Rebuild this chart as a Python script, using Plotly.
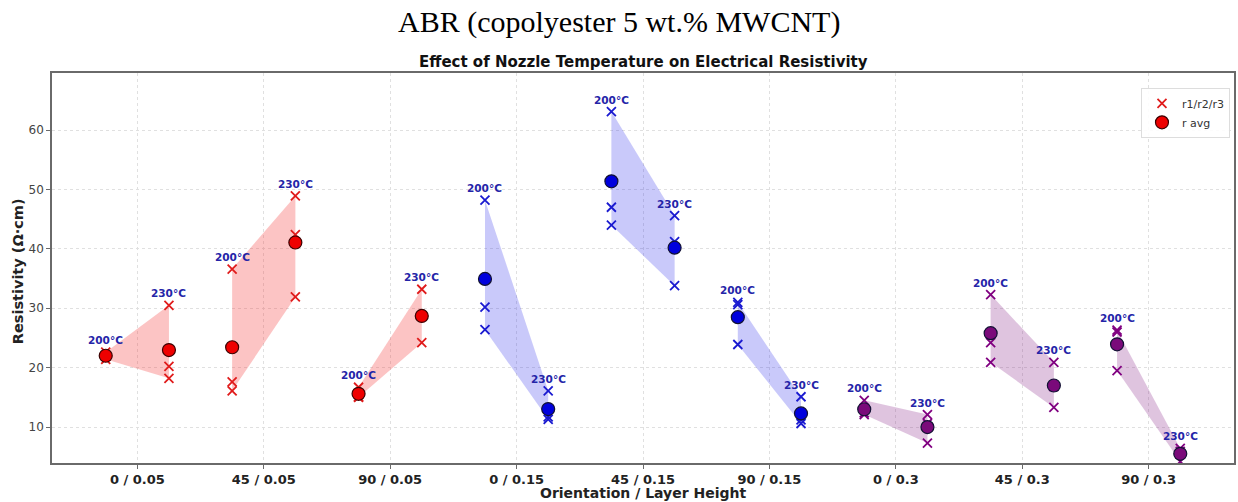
import plotly.graph_objects as go

# Orientation / layer-height combinations on the x axis
groups = ["0 / 0.05", "45 / 0.05", "90 / 0.05",
          "0 / 0.15", "45 / 0.15", "90 / 0.15",
          "0 / 0.3", "45 / 0.3", "90 / 0.3"]
layer_of_group = ["0.05", "0.05", "0.05", "0.15", "0.15", "0.15", "0.3", "0.3", "0.3"]
temps = ["200°C", "230°C"]

# Resistivity readings (Ω·cm) at 200 °C nozzle temperature
r1_200 = [22.6, 36.6, 16.7, 48.2, 63.1, 31.0, 14.5, 32.3, 26.3]
r2_200 = [21.4, 17.6, 15.0, 30.2, 47.0, 30.6, 12.1, 24.2, 26.0]
r3_200 = [22.0, 16.1, 15.1, 26.4, 44.0, 23.9, 12.4, 20.9, 19.5]

# Resistivity readings (Ω·cm) at 230 °C nozzle temperature
r1_230 = [30.5, 48.9, 33.2, 16.1, 45.6, 15.1, 12.1, 20.9, 6.4]
r2_230 = [20.2, 42.4, 24.2, 11.7, 41.2, 11.2, 10.6, 16.8, 4.2]
r3_230 = [18.2, 31.9, 28.7, 11.3, 33.8, 10.6, 7.3, 13.3, 5.9]

yticks = [10, 20, 30, 40, 50, 60]

# colour scheme per layer height
marker_color = {"0.05": "#e01b1b", "0.15": "#1a1ad0", "0.3": "#800080"}
avg_color = {"0.05": "#ee0000", "0.15": "#0000dd", "0.3": "#7a0a7a"}
fill_color = {"0.05": "rgba(245,60,60,0.30)", "0.15": "rgba(40,40,235,0.25)",
              "0.3": "rgba(128,20,128,0.25)"}
label_color = "#2424a8"
offset = 0.25

fig = go.Figure()
annotations = []

for i, g in enumerate(groups):
    lay = layer_of_group[i]
    x200, x230 = i - offset, i + offset
    v200 = [r1_200[i], r2_200[i], r3_200[i]]
    v230 = [r1_230[i], r2_230[i], r3_230[i]]
    avg200 = sum(v200) / 3
    avg230 = sum(v230) / 3

    # band between the minimum and maximum readings of the two temperatures
    fig.add_trace(go.Scatter(
        x=[x200, x230, x230, x200, x200],
        y=[max(v200), max(v230), min(v230), min(v200), max(v200)],
        mode="lines", fill="toself", fillcolor=fill_color[lay],
        line=dict(width=0), hoverinfo="skip", showlegend=False))

    first = i == 0
    fig.add_trace(go.Scatter(
        x=[x200] * 3 + [x230] * 3, y=v200 + v230, mode="markers",
        name="r1/r2/r3", showlegend=first,
        marker=dict(symbol="x-thin", size=9, color=marker_color[lay],
                    line=dict(width=1.8, color=marker_color[lay]))))
    fig.add_trace(go.Scatter(
        x=[x200, x230], y=[avg200, avg230], mode="markers",
        name="r avg", showlegend=first,
        marker=dict(symbol="circle", size=13, color=avg_color[lay],
                    line=dict(width=1.2, color="#3a0000" if lay == "0.05" else "#111133"))))

    for xt, vals, t in ((x200, v200, temps[0]), (x230, v230, temps[1])):
        annotations.append(dict(
            x=xt, y=max(vals), xref="x", yref="y", text=t, showarrow=False,
            yanchor="bottom", yshift=4,
            font=dict(family="DejaVu Sans", size=10.5, color=label_color, weight="bold")))

# titles and axis labels
annotations += [
    dict(text="ABR (copolyester 5 wt.% MWCNT)", x=0.4793, y=1.131, xref="paper", yref="paper",
         showarrow=False, xanchor="center", yanchor="middle",
         font=dict(family="Liberation Serif", size=30, color="#000000")),
    dict(text="Effect of Nozzle Temperature on Electrical Resistivity", x=0.5, y=1.028,
         xref="paper", yref="paper", showarrow=False, xanchor="center", yanchor="middle",
         font=dict(family="DejaVu Sans", size=15, color="#111111", weight="bold")),
    dict(text="Orientation / Layer Height", x=0.5, y=-0.076, xref="paper", yref="paper",
         showarrow=False, xanchor="center", yanchor="middle",
         font=dict(family="DejaVu Sans", size=14, color="#222222", weight="bold")),
    dict(text="Resistivity (Ω·cm)", x=-0.0287, y=0.492, xref="paper", yref="paper",
         showarrow=False, xanchor="center", yanchor="middle", textangle=-90,
         font=dict(family="DejaVu Sans", size=14.5, color="#222222", weight="bold")),
]

grid_style = dict(showgrid=True, gridcolor="#e0e0e0", griddash="3px,3px", gridwidth=0.8)
line_style = dict(showline=True, linecolor="#6a6a6a", linewidth=1.6, mirror=True,
                  ticks="outside", ticklen=4, tickcolor="#6a6a6a", zeroline=False)

fig.update_layout(
    width=1238, height=502,
    margin=dict(l=52, r=2, t=73, b=39),
    paper_bgcolor="white", plot_bgcolor="white",
    annotations=annotations,
    showlegend=True,
    legend=dict(x=0.9966, y=0.962, xanchor="right", yanchor="top",
                bgcolor="rgba(255,255,255,0.9)", bordercolor="#dddddd", borderwidth=1,
                font=dict(family="DejaVu Sans", size=11, color="#333333"),
                tracegroupgap=0, itemwidth=30),
    xaxis=dict(range=[-0.675, 8.675], tickmode="array",
               tickvals=list(range(len(groups))), ticktext=groups,
               tickfont=dict(family="DejaVu Sans", size=13, color="#222222", weight="bold"),
               **grid_style, **line_style),
    yaxis=dict(range=[3.95, 69.6], tickmode="array", tickvals=yticks,
               tickfont=dict(family="DejaVu Sans", size=12, color="#444444"),
               **grid_style, **line_style),
)

fig.write_html("out.html")
